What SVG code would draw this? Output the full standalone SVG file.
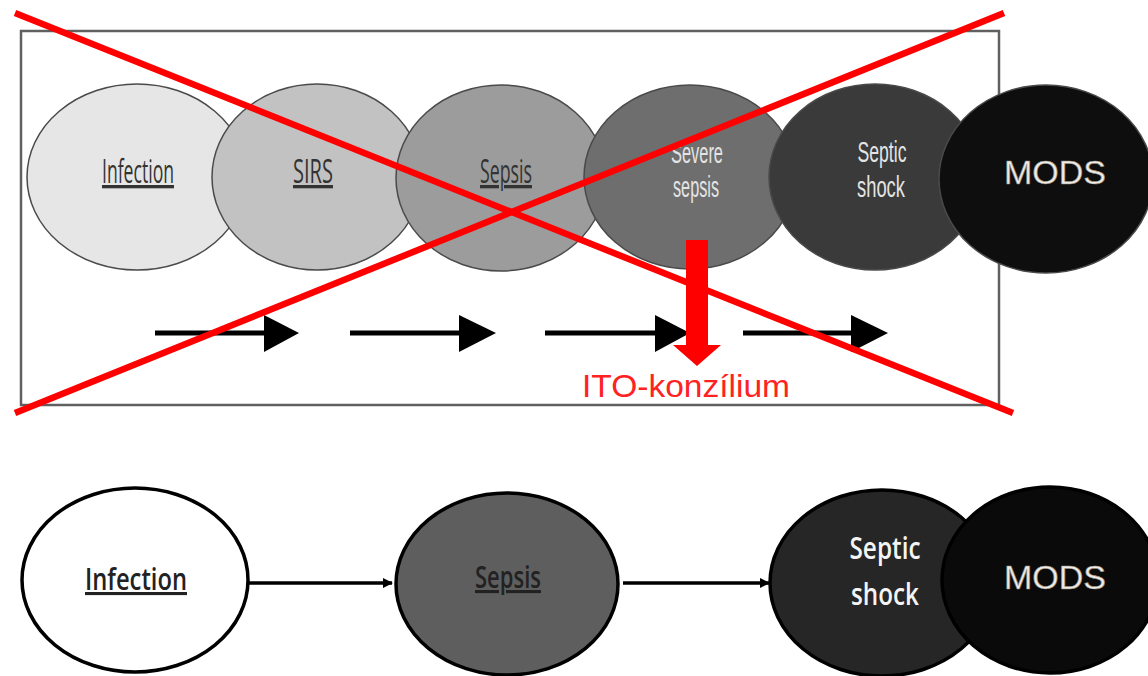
<svg xmlns="http://www.w3.org/2000/svg" width="1148" height="676" viewBox="0 0 1148 676">
<defs>
<style>
.top-el{stroke:#4a4a4a;stroke-width:1.5}
.bot-el{stroke:#000;stroke-width:3.5}
.lbl{font-family:"Open Sans","Liberation Sans",sans-serif;text-anchor:middle;text-decoration:underline}
.lblw{font-family:"Liberation Sans",Arial,sans-serif;text-anchor:middle}
.blbl{font-family:"Open Sans","Liberation Sans",sans-serif;font-weight:600;text-anchor:middle}
.mods{font-family:"Liberation Sans",Arial,sans-serif;font-size:34px;fill:#ececec;text-anchor:middle;stroke:#9a8a70;stroke-width:0.6}
.arr{stroke:#000;stroke-width:5;fill:none}
.x{stroke:#ff0000;stroke-width:6.5;stroke-linecap:butt}
</style>
<marker id="ah" markerWidth="10" markerHeight="10" refX="9" refY="5" orient="auto" markerUnits="userSpaceOnUse">
<path d="M0,0 L10,5 L0,10 Z" fill="#000"/>
</marker>
</defs>
<rect width="1148" height="676" fill="#fff"/>
<rect id="frame" x="21" y="31" width="978" height="374" fill="none" stroke="#606060" stroke-width="2.5"/>

<g id="top-infection"><ellipse class="top-el" cx="137" cy="177" rx="110" ry="93" fill="#e6e6e6"/>
<text class="lbl" x="138" y="183" font-size="33" fill="#333" textLength="72" lengthAdjust="spacingAndGlyphs">Infection</text></g>
<g id="top-sirs"><ellipse class="top-el" cx="317" cy="177" rx="105" ry="93" fill="#c2c2c2"/>
<text class="lbl" x="313" y="183" font-size="33" fill="#333" textLength="40" lengthAdjust="spacingAndGlyphs">SIRS</text></g>
<g id="top-sepsis"><ellipse class="top-el" cx="501" cy="178" rx="105" ry="93" fill="#9c9c9c"/>
<text class="lbl" x="506" y="183" font-size="33" fill="#333" textLength="52" lengthAdjust="spacingAndGlyphs">Sepsis</text></g>
<g id="top-severe"><ellipse class="top-el" cx="690" cy="177" rx="106" ry="92" fill="#6e6e6e"/>
<text class="lblw" x="697" y="163" font-size="29" fill="#e4e4e4" textLength="52" lengthAdjust="spacingAndGlyphs">Severe</text>
<text class="lblw" x="696" y="197" font-size="29" fill="#e4e4e4" textLength="46" lengthAdjust="spacingAndGlyphs">sepsis</text></g>
<g id="top-septic"><ellipse class="top-el" cx="875" cy="177" rx="106" ry="93" fill="#3a3a3a"/>
<text class="lblw" x="882" y="162" font-size="29" fill="#e4e4e4" textLength="49" lengthAdjust="spacingAndGlyphs">Septic</text>
<text class="lblw" x="881" y="197" font-size="29" fill="#e4e4e4" textLength="48" lengthAdjust="spacingAndGlyphs">shock</text></g>
<g id="top-mods"><ellipse class="top-el" cx="1046" cy="179" rx="107" ry="94" fill="#0e0e0e" stroke="#222"/>
<text class="mods" x="1055" y="184">MODS</text></g>

<g id="top-connectors">
<line class="arr" x1="155" y1="333" x2="266" y2="333"/><path d="M264,315 L299,333 L264,352 Z"/>
<line class="arr" x1="350" y1="333" x2="461" y2="333"/><path d="M459,315 L496,333 L459,352 Z"/>
<line class="arr" x1="545" y1="333" x2="657" y2="333"/><path d="M655,315 L690,333 L655,352 Z"/>
<line class="arr" x1="743" y1="333" x2="853" y2="333"/><path d="M851,315 L888,333 L851,352 Z"/>
<path id="ito-arrow" d="M686,240 L708,240 L708,345 L721,345 L697,366 L673,345 L686,345 Z" fill="#ff0000"/>
</g>
<text id="ito" x="686" y="397" font-family="'Liberation Sans',Arial,sans-serif" font-size="32" fill="#ff2222" text-anchor="middle" textLength="208" lengthAdjust="spacingAndGlyphs">ITO-konzílium</text>

<g id="cross">
<line class="x" x1="15" y1="13" x2="1013" y2="413"/>
<line class="x" x1="15" y1="413" x2="1004" y2="13"/>
</g>

<g id="bot-connectors">
<line x1="249" y1="583" x2="392" y2="583" stroke="#000" stroke-width="3.5" marker-end="url(#ah)"/>
<line x1="623" y1="583" x2="769" y2="583" stroke="#000" stroke-width="3.5" marker-end="url(#ah)"/>
</g>
<g id="bot-infection"><ellipse class="bot-el" cx="135" cy="580" rx="113" ry="92" fill="#fff"/>
<text class="blbl" x="136" y="590" font-size="31" fill="#222" textLength="102" lengthAdjust="spacingAndGlyphs" text-decoration="underline">Infection</text></g>
<g id="bot-sepsis"><ellipse class="bot-el" cx="507" cy="584" rx="111" ry="91" fill="#5e5e5e"/>
<text class="blbl" x="508" y="588" font-size="31" fill="#222" textLength="66" lengthAdjust="spacingAndGlyphs" text-decoration="underline">Sepsis</text></g>
<g id="bot-septic"><ellipse class="bot-el" cx="882" cy="583" rx="112" ry="93" fill="#262626"/>
<text class="blbl" x="885" y="559" font-size="30" fill="#f4f4f4" textLength="71" lengthAdjust="spacingAndGlyphs">Septic</text>
<text class="blbl" x="885" y="605" font-size="30" fill="#f4f4f4" textLength="68" lengthAdjust="spacingAndGlyphs">shock</text></g>
<g id="bot-mods"><ellipse class="bot-el" cx="1050" cy="580" rx="108" ry="93" fill="#0a0a0a"/>
<text class="mods" x="1055" y="589">MODS</text></g>
</svg>
